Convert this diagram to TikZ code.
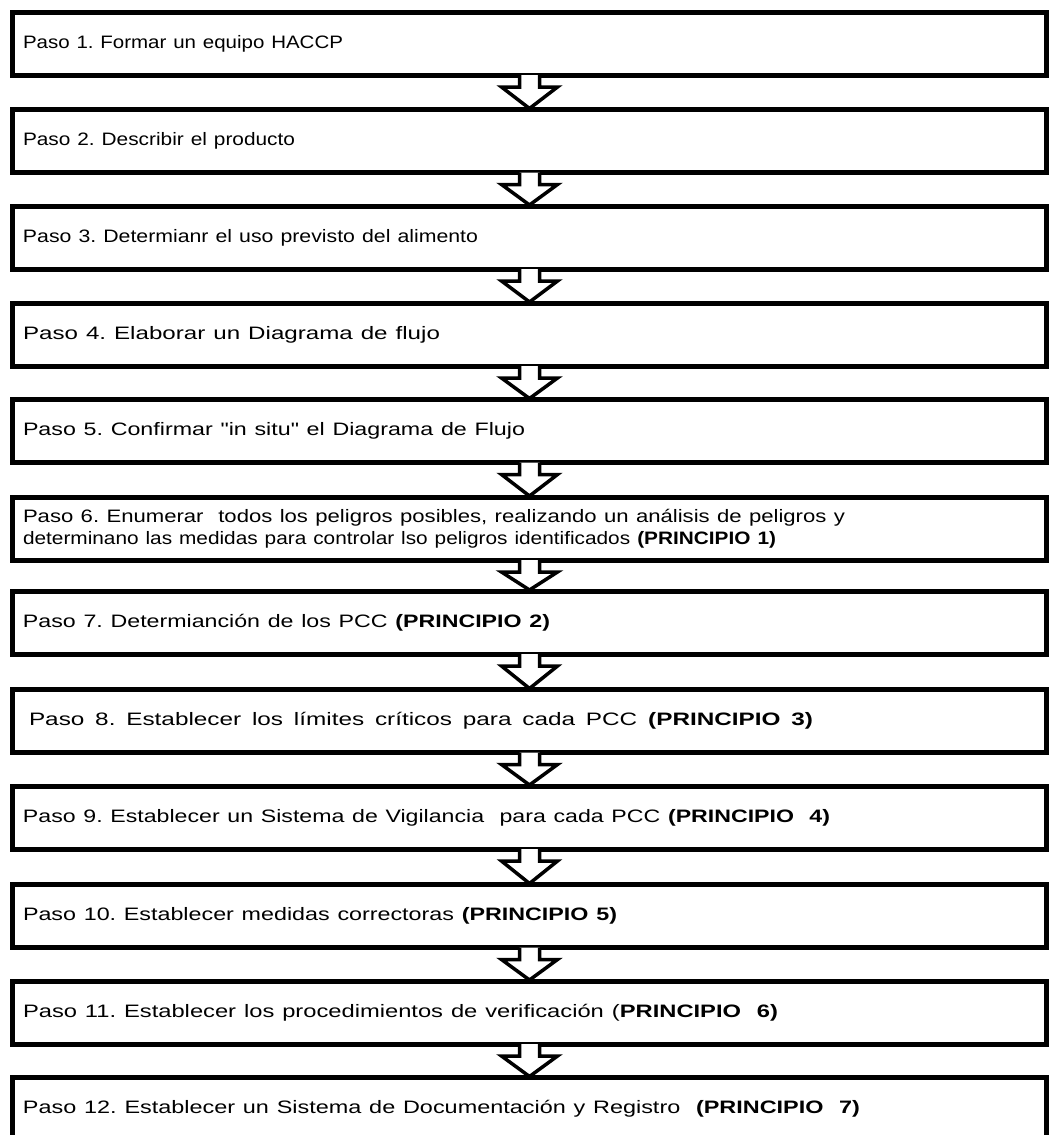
\documentclass[tikz,border=0pt]{standalone}
\usepackage{graphicx}
\usepackage{fontspec}
\setmainfont{Liberation Sans}
\usetikzlibrary{calc}

% a straight ASCII double quote, set as a glyph
\newcommand{\sq}{\XeTeXglyph\XeTeXglyphindex "quotedbl"\relax}
% one line of step text, set to a given width at its natural height
\newcommand{\fitline}[2]{\resizebox{#1}{\height}{#2}}

\tikzset{
  stepbox/.style={draw=black, line width=5pt, fill=white, rectangle,
    minimum width=1034pt, minimum height=63pt, text width=1013pt,
    inner xsep=10.5pt, inner ysep=0pt, align=left,
    font=\fontsize{18}{22.5}\selectfont\frenchspacing},
  flowarrow/.style={draw=black, fill=white, line width=3.5pt, line join=miter}
}

% hollow block arrow from the bottom of one step to the top of the next
\newcommand{\steparrow}[2]{%
  \draw[flowarrow]
    ($(#1.south)+(-10,-2.5)$) -- ($(#1.south)+(-10,9.5)$) --
    ($(#1.south)+(-28,9.5)$) -- ($(#2.north)+(0,1.5)$) --
    ($(#1.south)+(28,9.5)$) -- ($(#1.south)+(10,9.5)$) --
    ($(#1.south)+(10,-2.5)$);
}

\begin{document}
\begin{tikzpicture}[x=1pt, y=-1pt]
\useasboundingbox[fill=white] (0,0) rectangle (1053,1135);
\clip (0,0) rectangle (1053,1135);

\node[stepbox] (p1)  at (529.5,43.5)  {\fitline{320pt}{Paso 1. Formar un equipo HACCP}};
\node[stepbox] (p2)  at (529.5,141)   {\fitline{272pt}{Paso 2. Describir el producto}};
\node[stepbox] (p3)  at (529.5,237.5) {\fitline{455pt}{Paso 3. Determianr el uso previsto del alimento}};
\node[stepbox] (p4)  at (529.5,334.5) {\fitline{417pt}{Paso 4. Elaborar un Diagrama de flujo}};
\node[stepbox] (p5)  at (529.5,431)   {\fitline{502pt}{Paso 5. Confirmar \sq in situ\sq{} el Diagrama de Flujo}};
\node[stepbox] (p6)  at (529.5,528.5) {\fitline{822pt}{Paso 6. Enumerar\ \ todos los peligros posibles, realizando un análisis de peligros y}\\
  \fitline{753pt}{determinano las medidas para controlar lso peligros identificados \textbf{(PRINCIPIO 1)}}};
\node[stepbox] (p7)  at (529.5,622.5) {\fitline{527pt}{Paso 7. Determianción de los PCC \textbf{(PRINCIPIO 2)}}};
\node[stepbox] (p8)  at (529.5,721)   {\hspace{6pt}\fitline{784pt}{\spaceskip=8pt Paso 8. Establecer los límites críticos para cada PCC \textbf{(PRINCIPIO 3)}}};
\node[stepbox] (p9)  at (529.5,817.5) {\fitline{807pt}{Paso 9. Establecer un Sistema de Vigilancia\ \ para cada PCC \textbf{(PRINCIPIO\ \ 4)}}};
\node[stepbox] (p10) at (529.5,916)   {\fitline{594pt}{Paso 10. Establecer medidas correctoras \textbf{(PRINCIPIO 5)}}};
\node[stepbox] (p11) at (529.5,1012.5){\fitline{755pt}{Paso 11. Establecer los procedimientos de verificación (\textbf{PRINCIPIO\ \ 6)}}};
\node[stepbox] (p12) at (529.5,1109)  {\fitline{837pt}{Paso 12. Establecer un Sistema de Documentación y Registro\ \ \textbf{(PRINCIPIO\ \ 7)}}};

\steparrow{p1}{p2}
\steparrow{p2}{p3}
\steparrow{p3}{p4}
\steparrow{p4}{p5}
\steparrow{p5}{p6}
\steparrow{p6}{p7}
\steparrow{p7}{p8}
\steparrow{p8}{p9}
\steparrow{p9}{p10}
\steparrow{p10}{p11}
\steparrow{p11}{p12}
\end{tikzpicture}
\end{document}
